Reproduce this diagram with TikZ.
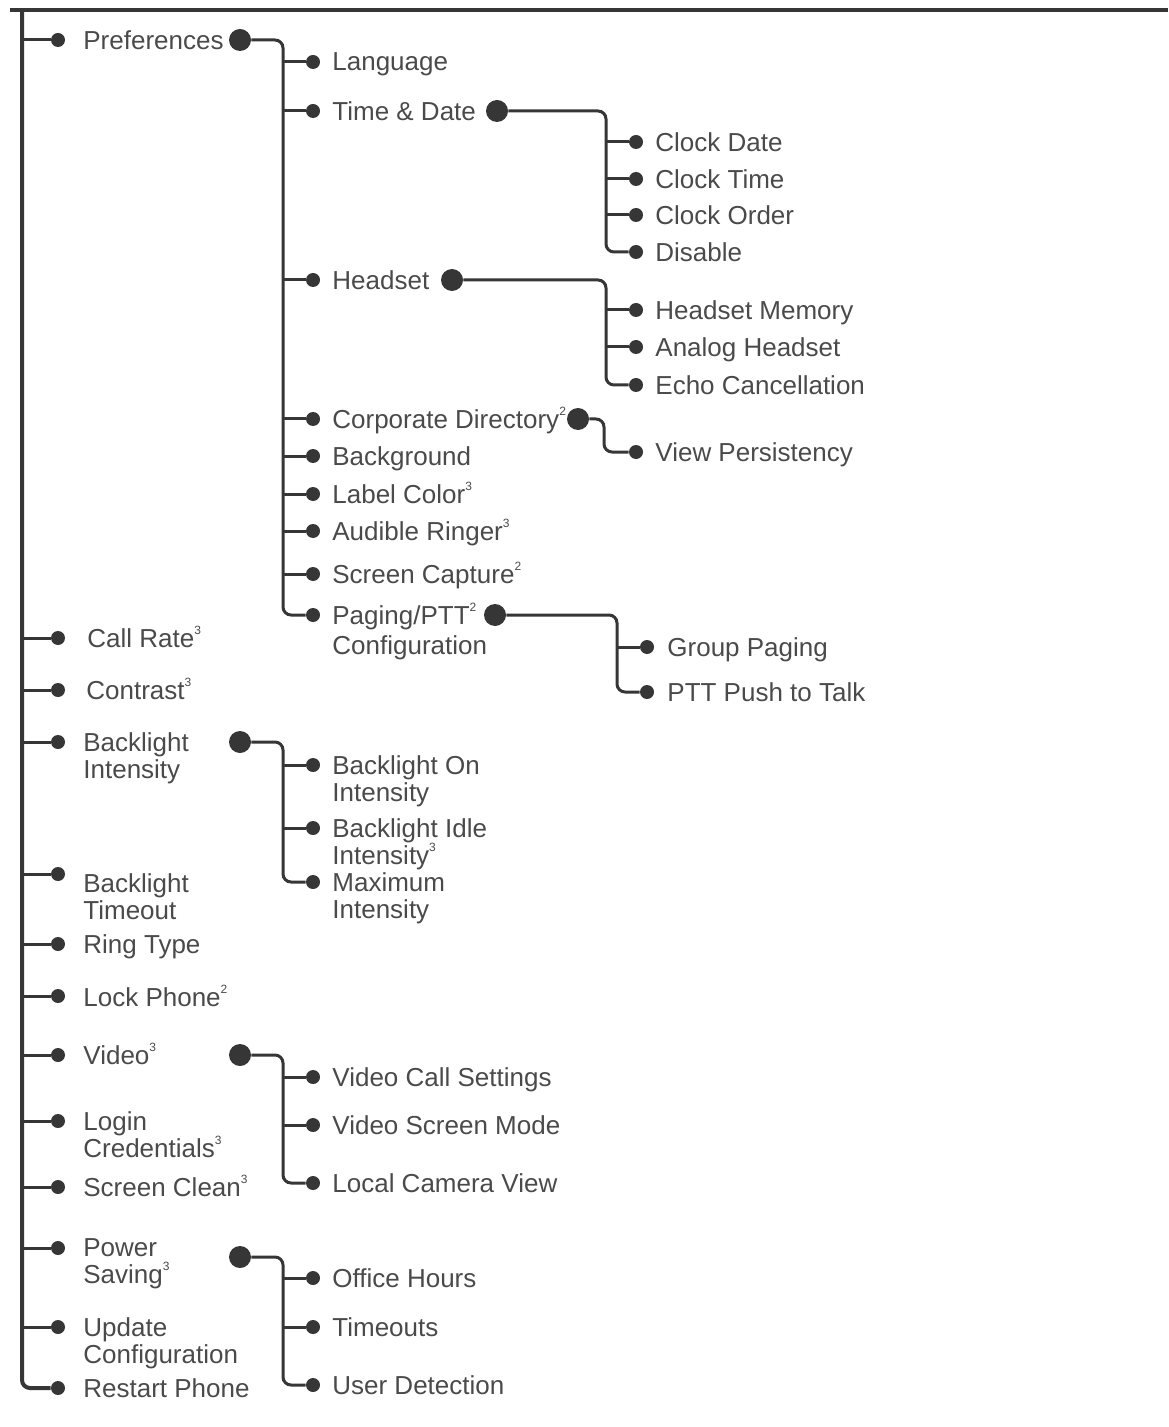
\documentclass[tikz,border=0pt]{standalone}
\usepackage{fontspec}
\setmainfont{Liberation Sans}
\definecolor{linecol}{HTML}{363636}
\definecolor{textcol}{HTML}{4A4A4A}
\newcommand\fnote[1]{\smash{\raisebox{0.95ex}{\fontsize{6}{6}\selectfont #1}}}
\begin{document}
\begin{tikzpicture}[x=0.5pt,y=-0.5pt,
  conn/.style={draw=linecol,line width=1.5pt,rounded corners=4pt},
  mainline/.style={draw=linecol,line width=2pt,rounded corners=4pt},
  sdot/.style={circle,fill=linecol,inner sep=0pt,minimum size=7pt},
  bdot/.style={circle,fill=linecol,inner sep=0pt,minimum size=11pt},
  lbl/.style={anchor=north west,inner sep=0pt,align=left,text=textcol,
    font=\fontsize{13}{13.5}\selectfont}]
\useasboundingbox (0,0) rectangle (1168,1427);
% bus coordinates
\coordinate (tl) at (10,10);
\coordinate (tr) at (1168,10);
\coordinate (mtop) at (22,10);
\coordinate (busA) at (283,0);
\coordinate (busT) at (606,0);
\coordinate (busH) at (606,0);
\coordinate (busC) at (604,0);
\coordinate (busP) at (617,0);
% ---------- level 1 ----------
\node[sdot] (pref) at (58,40) {};
\node[lbl] (t-pref) at (83,30.5) {Preferences};
\node[bdot] (pref-b) at (240,40) {};
\node[sdot] (callrate) at (58,638) {};
\node[lbl] (t-callrate) at (87,628.5) {Call Rate\fnote{3}};
\node[sdot] (contrast) at (58,690) {};
\node[lbl] (t-contrast) at (86,680.5) {Contrast\fnote{3}};
\node[sdot] (blint) at (58,742) {};
\node[lbl] (t-blint) at (83,732.5) {Backlight\\Intensity};
\node[bdot] (blint-b) at (240,742) {};
\node[sdot] (bltime) at (58,874) {};
\node[lbl] (t-bltime) at (83,873.5) {Backlight\\Timeout};
\node[sdot] (ring) at (58,944) {};
\node[lbl] (t-ring) at (83,934.5) {Ring Type};
\node[sdot] (lock) at (58,996) {};
\node[lbl] (t-lock) at (83,987.5) {Lock Phone\fnote{2}};
\node[sdot] (video) at (58,1055) {};
\node[lbl] (t-video) at (83,1045.5) {Video\fnote{3}};
\node[bdot] (video-b) at (240,1055) {};
\node[sdot] (login) at (58,1121) {};
\node[lbl] (t-login) at (83,1111.5) {Login\\Credentials\fnote{3}};
\node[sdot] (clean) at (58,1187) {};
\node[lbl] (t-clean) at (83,1177.5) {Screen Clean\fnote{3}};
\node[sdot] (power) at (58,1248) {};
\node[lbl] (t-power) at (83,1238.5) {Power\\Saving\fnote{3}};
\node[bdot] (power-b) at (240,1257) {};
\node[sdot] (update) at (58,1327) {};
\node[lbl] (t-update) at (83,1317.5) {Update\\Configuration};
\node[sdot] (restart) at (58,1388) {};
\node[lbl] (t-restart) at (83,1378.5) {Restart Phone};
% ---------- Preferences children ----------
\node[sdot] (lang) at (313,62) {};
\node[lbl] (t-lang) at (332,52.5) {Language};
\node[sdot] (timedate) at (313,111) {};
\node[lbl] (t-timedate) at (332,101.5) {Time \& Date};
\node[bdot] (timedate-b) at (497,111) {};
\node[sdot] (headset) at (313,280) {};
\node[lbl] (t-headset) at (332,270.5) {Headset};
\node[bdot] (headset-b) at (452,280) {};
\node[sdot] (corp) at (313,419) {};
\node[lbl] (t-corp) at (332,409.5) {Corporate Directory\fnote{2}};
\node[bdot] (corp-b) at (578,419) {};
\node[sdot] (backg) at (313,456) {};
\node[lbl] (t-backg) at (332,446.5) {Background};
\node[sdot] (labcol) at (313,494) {};
\node[lbl] (t-labcol) at (332,484.5) {Label Color\fnote{3}};
\node[sdot] (ringer) at (313,531) {};
\node[lbl] (t-ringer) at (332,521.5) {Audible Ringer\fnote{3}};
\node[sdot] (scap) at (313,574) {};
\node[lbl] (t-scap) at (332,564.5) {Screen Capture\fnote{2}};
\node[sdot] (paging) at (313,615) {};
\node[lbl] (t-paging) at (332,605.5) {Paging/PTT\fnote{2}\\[1.5pt]Configuration};
\node[bdot] (paging-b) at (495,615) {};
% Time & Date children
\node[sdot] (cdate) at (636,142) {};
\node[lbl] (t-cdate) at (655,132.5) {Clock Date};
\node[sdot] (ctime) at (636,179) {};
\node[lbl] (t-ctime) at (655,169.5) {Clock Time};
\node[sdot] (corder) at (636,215) {};
\node[lbl] (t-corder) at (655,205.5) {Clock Order};
\node[sdot] (disable) at (636,252) {};
\node[lbl] (t-disable) at (655,242.5) {Disable};
% Headset children
\node[sdot] (hmem) at (636,310) {};
\node[lbl] (t-hmem) at (655,300.5) {Headset Memory};
\node[sdot] (analog) at (636,347) {};
\node[lbl] (t-analog) at (655,337.5) {Analog Headset};
\node[sdot] (echo) at (636,385) {};
\node[lbl] (t-echo) at (655,375.5) {Echo Cancellation};
% Corporate directory child
\node[sdot] (viewp) at (636,452) {};
\node[lbl] (t-viewp) at (655,442.5) {View Persistency};
% Paging children
\node[sdot] (grp) at (647,647) {};
\node[lbl] (t-grp) at (667,637.5) {Group Paging};
\node[sdot] (ptt) at (647,692) {};
\node[lbl] (t-ptt) at (667,682.5) {PTT Push to Talk};
% Backlight children
\node[sdot] (blon) at (313,765) {};
\node[lbl] (t-blon) at (332,755.5) {Backlight On\\Intensity};
\node[sdot] (blidle) at (313,828) {};
\node[lbl] (t-blidle) at (332,818.5) {Backlight Idle\\Intensity\fnote{3}};
\node[sdot] (blmax) at (313,882) {};
\node[lbl] (t-blmax) at (332,872.5) {Maximum\\Intensity};
% Video children
\node[sdot] (vcall) at (313,1077) {};
\node[lbl] (t-vcall) at (332,1067.5) {Video Call Settings};
\node[sdot] (vscreen) at (313,1125) {};
\node[lbl] (t-vscreen) at (332,1115.5) {Video Screen Mode};
\node[sdot] (vcam) at (313,1183) {};
\node[lbl] (t-vcam) at (332,1173.5) {Local Camera View};
% Power children
\node[sdot] (office) at (313,1278) {};
\node[lbl] (t-office) at (332,1268.5) {Office Hours};
\node[sdot] (tout) at (313,1327) {};
\node[lbl] (t-tout) at (332,1317.5) {Timeouts};
\node[sdot] (user) at (313,1385) {};
\node[lbl] (t-user) at (332,1375.5) {User Detection};
% ---------- connectors ----------
\draw[draw=linecol,line width=1.7pt] (tl) -- (tr);
\draw[mainline] (mtop) -- (restart -| mtop) -- (restart);
\foreach \n in {pref,callrate,contrast,blint,bltime,ring,lock,video,login,clean,power,update}
  \draw[conn] (\n -| mtop) -- (\n);
% Preferences
\draw[conn] (pref-b) -- (pref-b -| busA) -- (paging -| busA) -- (paging);
\foreach \n in {lang,timedate,headset,corp,backg,labcol,ringer,scap}
  \draw[conn] (\n -| busA) -- (\n);
% Time & Date
\draw[conn] (timedate-b) -- (timedate-b -| busT) -- (disable -| busT) -- (disable);
\foreach \n in {cdate,ctime,corder}
  \draw[conn] (\n -| busT) -- (\n);
% Headset
\draw[conn] (headset-b) -- (headset-b -| busH) -- (echo -| busH) -- (echo);
\foreach \n in {hmem,analog}
  \draw[conn] (\n -| busH) -- (\n);
% Corporate directory
\draw[conn] (corp-b) -- (corp-b -| busC) -- (viewp -| busC) -- (viewp);
% Paging
\draw[conn] (paging-b) -- (paging-b -| busP) -- (ptt -| busP) -- (ptt);
\draw[conn] (grp -| busP) -- (grp);
% Backlight
\draw[conn] (blint-b) -- (blint-b -| busA) -- (blmax -| busA) -- (blmax);
\foreach \n in {blon,blidle}
  \draw[conn] (\n -| busA) -- (\n);
% Video
\draw[conn] (video-b) -- (video-b -| busA) -- (vcam -| busA) -- (vcam);
\foreach \n in {vcall,vscreen}
  \draw[conn] (\n -| busA) -- (\n);
% Power
\draw[conn] (power-b) -- (power-b -| busA) -- (user -| busA) -- (user);
\foreach \n in {office,tout}
  \draw[conn] (\n -| busA) -- (\n);
\end{tikzpicture}
\end{document}
